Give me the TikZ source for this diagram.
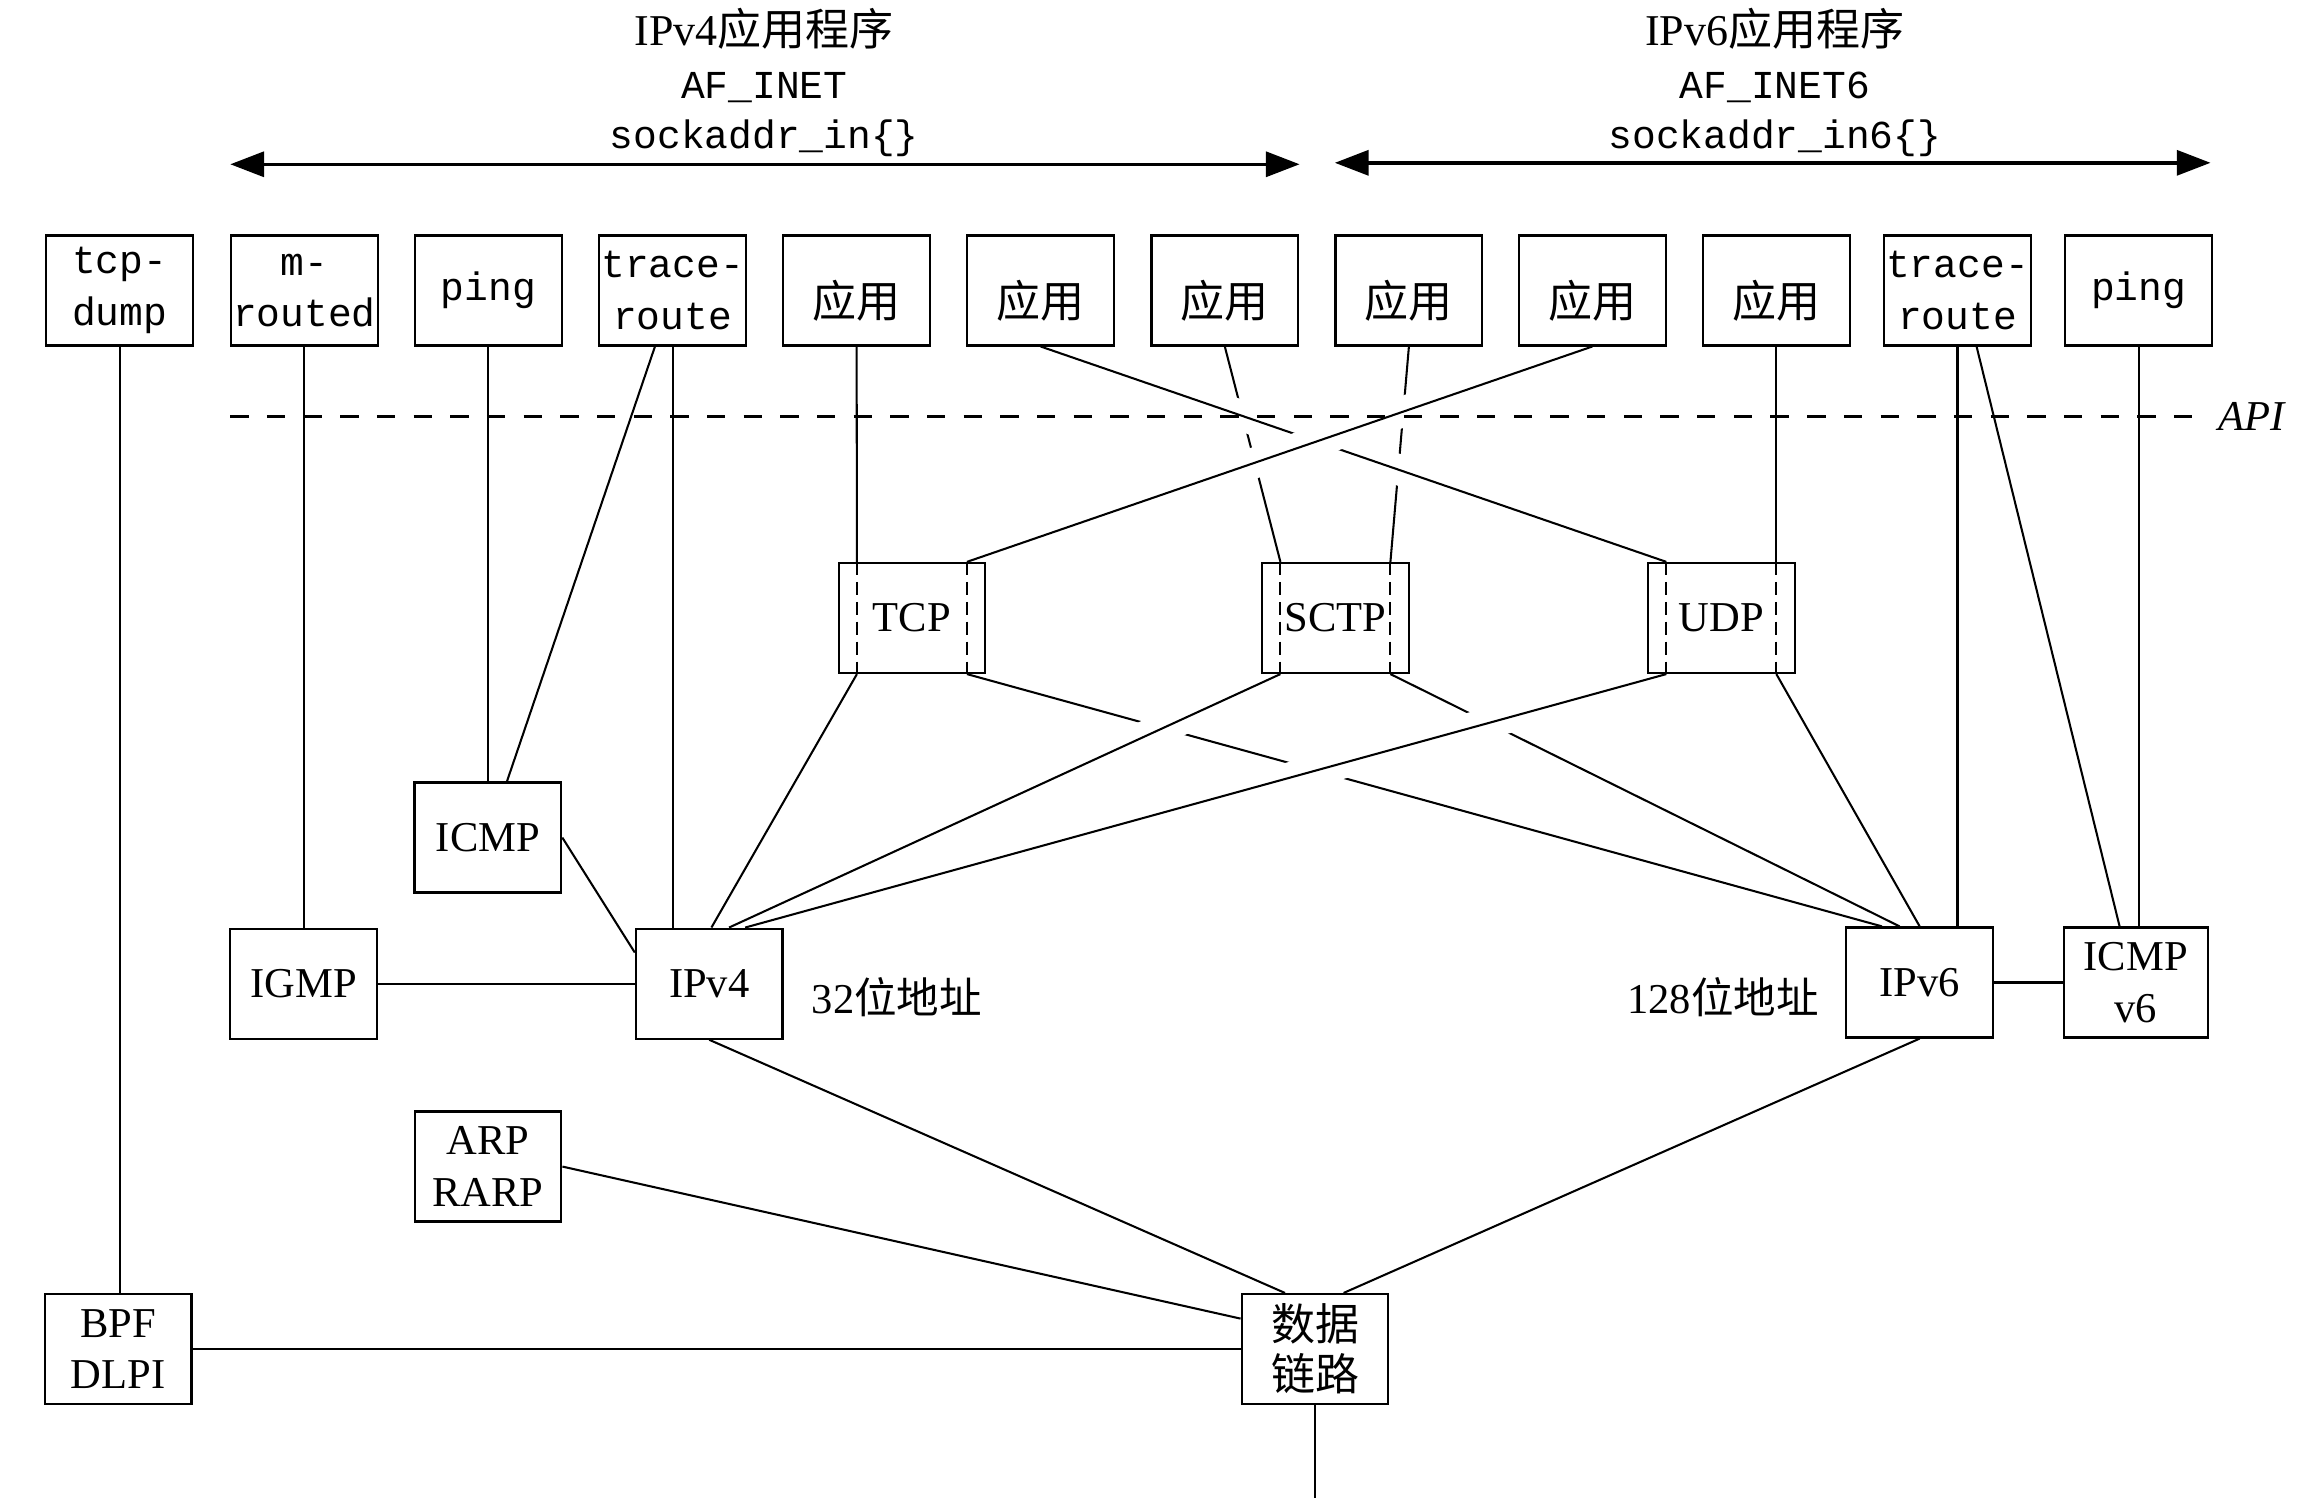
\documentclass[tikz,border=0pt]{standalone}
\usepackage{fontspec}
\setmainfont{Liberation Serif}
\setmonofont{Liberation Mono}
\newfontfamily\cjk{Noto Sans CJK SC}
\usetikzlibrary{arrows.meta,calc}
\begin{document}
\begin{tikzpicture}[x=0.5pt,y=-0.5pt,
  box/.style={draw, line width=0.75pt, minimum width=50pt, minimum height=37.5pt, inner sep=0pt, align=center},
  rm/.style={font=\fontsize{14.5}{17.5}\selectfont},
  ttl/.style={font=\fontsize{15}{17.5}\selectfont},
  tt/.style={font=\fontsize{13.5}{17.5}\selectfont\ttfamily},
  zh/.style={font=\fontsize{15}{17}\selectfont\cjk},
  appbox/.style={box, zh, text height=20pt, text depth=1.8pt},
  conn/.style={line width=0.7pt},
  halo/.style={preaction={draw=white, line width=10.5pt, shorten <=30pt, shorten >=30pt}},
  halolong/.style={preaction={draw=white, line width=10.5pt, shorten <=30pt, shorten >=42pt}},
  innerdash/.style={line width=0.65pt, dash pattern=on 4.5pt off 2.3pt},
  apiline/.style={line width=0.75pt, dash pattern=on 6.25pt off 6.25pt},
  spanarrow/.style={line width=1.2pt, {Triangle[length=11.5pt,width=8.5pt]}-{Triangle[length=11.5pt,width=8.5pt]}},
]
\useasboundingbox (0,0) rectangle (1568,1021);

% ---------- titles ----------
\node[ttl, anchor=base, inner sep=0pt] (t4) at (521,31) {IPv4{\cjk 应用程序}};
\node[tt, anchor=base, inner sep=0pt] (af4) at (521,67) {AF\_INET};
\node[tt, anchor=base, inner sep=0pt] (sa4) at (521,101) {sockaddr\_in\{\}};
\node[ttl, anchor=base, inner sep=0pt] (t6) at (1210,31) {IPv6{\cjk 应用程序}};
\node[tt, anchor=base, inner sep=0pt] (af6) at (1210,67) {AF\_INET6};
\node[tt, anchor=base, inner sep=0pt] (sa6) at (1210,101) {sockaddr\_in6\{\}};
\coordinate (s4l) at (157,112);
\coordinate (s4r) at (886,112);
\coordinate (s6l) at (910,111);
\coordinate (s6r) at (1507,111);
\draw[spanarrow] (s4l) -- (s4r);
\draw[spanarrow] (s6l) -- (s6r);

% ---------- top row ----------
\node[box,tt] (tcpdump) at (81.5,198) {tcp-\\dump};
\node[box,tt] (mrouted) at (207.5,198) {m-\\routed};
\node[box,tt] (ping4) at (333,198) {ping};
\node[box,tt] (trace4) at (458.5,198) {trace-\\route};
\node[appbox] (a1) at (584,198) {应用};
\node[appbox] (a2) at (709.5,198) {应用};
\node[appbox] (a3) at (835,198) {应用};
\node[appbox] (a4) at (960.5,198) {应用};
\node[appbox] (a5) at (1085.5,198) {应用};
\node[appbox] (a6) at (1211,198) {应用};
\node[box,tt] (trace6) at (1334.5,198) {trace-\\route};
\node[box,tt] (ping6) at (1458,198) {ping};

% ---------- API ----------
\coordinate (apiL) at (157,284);
\node[font=\fontsize{14.5}{17.5}\selectfont\itshape, anchor=west, inner sep=0pt] (apitext) at (1512,284) {API};

% ---------- transport ----------
\node[box,rm] (tcp) at (621.7,421.3) {TCP};
\node[box,rm] (sctp) at (910.4,421.3) {SCTP};
\node[box,rm] (udp) at (1173.5,421.3) {UDP};
\foreach \n in {tcp,sctp,udp}{
  \coordinate (\n TL) at ($(\n.north)+(-37.5,0)$);
  \coordinate (\n TR) at ($(\n.north)+(37.5,0)$);
  \coordinate (\n BL) at ($(\n.south)+(-37.5,0)$);
  \coordinate (\n BR) at ($(\n.south)+(37.5,0)$);
  \draw[innerdash] (\n TL) -- (\n BL);
  \draw[innerdash] (\n TR) -- (\n BR);
}

% ---------- network ----------
\node[box,rm] (icmp) at (332.6,571) {ICMP};
\node[box,rm] (igmp) at (207,670.6) {IGMP};
\node[box,rm] (ipv4) at (483.5,670.6) {IPv4};
\node[rm, anchor=base west, inner sep=0pt] (addr4) at (553,691) {32{\cjk 位地址}};
\node[rm, anchor=base west, inner sep=0pt] (addr6) at (1109,691) {128{\cjk 位地址}};
\node[box,rm] (ipv6) at (1308.7,669.8) {IPv6};
\node[box,rm, minimum width=49pt] (icmp6) at (1456,669.8) {ICMP\\v6};

% ---------- link ----------
\node[box,rm] (arp) at (332.7,795.3) {ARP\\RARP};
\node[box,rm] (bpf) at (80.6,919.7) {BPF\\DLPI};
\node[box,zh] (dl) at (896.5,919.7) {数据\\链路};
\coordinate (dlout) at (896.5,1021);

% attachment points
\coordinate (v4a) at ($(ipv4.north)+(1.5,0)$);
\coordinate (v4b) at ($(ipv4.north)+(13.5,0)$);
\coordinate (v4c) at ($(ipv4.north)+(24.5,0)$);
\coordinate (v6a) at ($(ipv6.north)+(-25.7,0)$);
\coordinate (v6b) at ($(ipv6.north)+(-13.7,0)$);
\coordinate (tr4d) at ($(trace4.south)+(-12,0)$);
\coordinate (tr6d) at ($(trace6.south)+(13,0)$);
\coordinate (icmpd) at ($(icmp.north)+(13,0)$);
\coordinate (icmp6d) at ($(icmp6.north)+(-11,0)$);
\coordinate (v4w) at ($(ipv4.north west)+(0,17)$);
\coordinate (dlw) at ($(dl.north west)+(0,17.5)$);
\coordinate (dlnl) at ($(dl.north)+(-20.5,0)$);
\coordinate (dlnr) at ($(dl.north)+(19.5,0)$);
\coordinate (apiR) at ($(apitext.west)+(-6,0)$);

% ---------- simple connectors ----------
\draw[conn] (tcpdump.south) -- (tcpdump.south |- bpf.north);
\draw[conn] (mrouted.south) -- (mrouted.south |- igmp.north);
\draw[conn] (ping4.south) -- (ping4.south |- icmp.north);
\draw[conn] (tr4d) -- (icmpd);
\draw[conn] (trace4.south) -- (trace4.south |- ipv4.north);
\draw[conn] (a1.south) -- (tcpTL);
\draw[conn] (a6.south) -- (udpTR);
\draw[conn] (trace6.south) -- (trace6.south |- ipv6.north);
\draw[conn] (tr6d) -- (icmp6d);
\draw[conn] (ping6.south) -- (ping6.south |- icmp6.north);
\draw[conn] (icmp.east) -- (v4w);
\draw[conn] (igmp.east) -- (ipv4.west);
\draw[conn] (ipv6.east) -- (icmp6.west);
\draw[conn] (tcpBL) -- (v4a);
\draw[conn] (udpBR) -- (ipv6.north);
\draw[conn] (ipv4.south) -- (dlnl);
\draw[conn] (ipv6.south) -- (dlnr);
\draw[conn] (arp.east) -- (dlw);
\draw[conn] (bpf.east) -- (dl.west);
\draw[conn] (dl.south) -- (dlout);

% ---------- crossing connectors (upper) ----------
\draw[conn] (a3.south) -- (sctpTL);
\draw[conn] (a4.south) -- (sctpTR);
\draw[conn,halo] (a2.south) -- (udpTL);
\draw[conn,halo] (a5.south) -- (tcpTR);

% ---------- crossing connectors (lower) ----------
\draw[conn] (tcpBR) -- (v6a);
\draw[conn] (sctpBR) -- (v6b);
\draw[conn,halo] (sctpBL) -- (v4b);
\draw[conn,halolong] (udpBL) -- (v4c);

% API line on top
\draw[apiline] (apiL) -- (apiR);
\end{tikzpicture}
\end{document}
